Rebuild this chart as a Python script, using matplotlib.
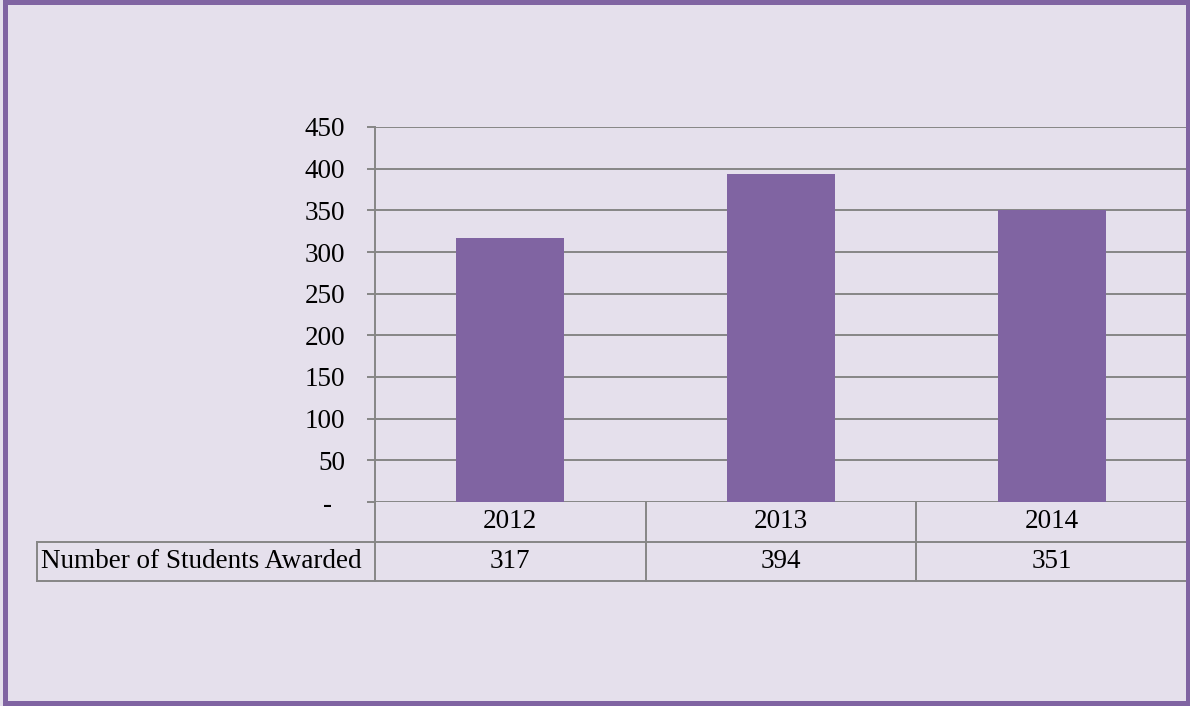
import matplotlib
matplotlib.use("Agg")
import matplotlib.pyplot as plt
from matplotlib.patches import Rectangle

# data
years = ["2012", "2013", "2014"]
awarded = [317, 394, 351]
row_label = "Number of Students Awarded"
yticks = [0, 50, 100, 150, 200, 250, 300, 350, 400, 450]
ytick_labels = ["-  ", "50", "100", "150", "200", "250", "300", "350", "400", "450"]

bg = "#E5E0EC"
purple = "#8064A2"
grey = "#868686"

plt.rcParams["font.family"] = ["Liberation Serif", "DejaVu Serif"]
W, H = 1190, 706
fs = 19.5
fig = plt.figure(figsize=(W / 100, H / 100), dpi=100, facecolor=bg)

# plot area in pixels: x 375..1187, y 127..502
ax = fig.add_axes([375 / W, 1 - 502 / H, (1187 - 375) / W, (502 - 127) / H])
ax.set_facecolor(bg)

x = range(len(years))
ax.bar(x, awarded, width=0.4, color=purple, zorder=3)
ax.set_xlim(-0.5, 2.5)
ax.set_ylim(0, 450)
ax.set_yticks(yticks)
ax.set_yticklabels(ytick_labels, fontsize=fs)
ax.set_xticks([])
ax.tick_params(axis="y", length=5.8, width=1.4, color=grey, pad=15.5)
ax.grid(axis="y", color=grey, linewidth=1.4, zorder=0)
for s in ["top", "right", "bottom"]:
    ax.spines[s].set_visible(False)
ax.spines["left"].set_color(grey)
ax.spines["left"].set_linewidth(1.4)

# data table under the axis
r1 = -40 / 375
r2 = -79 / 375
left_px = 37
left_ax = (left_px - 375) / (1187 - 375)
tr = ax.get_xaxis_transform()
lkw = dict(color=grey, linewidth=1.4, clip_on=False, zorder=4)
ax.plot([-0.5, -0.5], [0, r2], transform=tr, **lkw)
for b in [0.5, 1.5, 2.5]:
    ax.plot([b, b], [0, r2], transform=tr, **lkw)
ax.plot([left_ax, 1], [r1, r1], transform=ax.transAxes, **lkw)
ax.plot([left_ax, 1], [r2, r2], transform=ax.transAxes, **lkw)
ax.plot([left_ax, left_ax], [r1, r2], transform=ax.transAxes, **lkw)

for i, (yr, v) in enumerate(zip(years, awarded)):
    ax.text(i, r1 / 2, yr, transform=tr, ha="center", va="center", fontsize=fs)
    ax.text(i, (r1 + r2) / 2, str(v), transform=tr, ha="center", va="center", fontsize=fs)
ax.text(left_ax + 4 / 812, (r1 + r2) / 2, row_label, transform=ax.transAxes,
        ha="left", va="center", fontsize=fs)

# outer border
fig.patches.append(Rectangle((4.5 / W, 3.5 / H), (1188 - 4.5) / W, (704 - 3.5) / H,
                             transform=fig.transFigure, fill=False,
                             edgecolor=purple, linewidth=3.6))

fig.savefig("out.png", dpi=100, facecolor=bg)
